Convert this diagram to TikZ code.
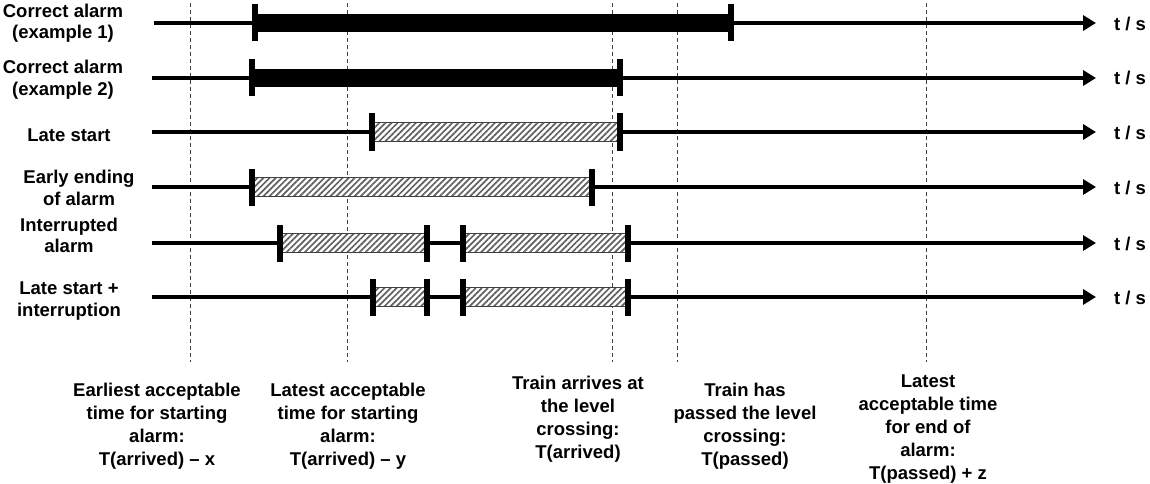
\documentclass[tikz,border=0pt]{standalone}
\usepackage{fontspec}
\setmainfont{Liberation Sans}
\usetikzlibrary{arrows.meta,patterns.meta}
\begin{document}
\begin{tikzpicture}[x=1pt,y=-1pt,
  guide/.style={draw=black!75, line width=0.9pt, dash pattern=on 4pt off 3pt},
  axis/.style={line width=4.5pt, -{Triangle[length=13pt,width=15pt]}},
  rowlabel/.style={font=\bfseries\fontsize{18.5}{21.5}\selectfont, align=center, inner sep=0pt},
  botlabel/.style={font=\bfseries\fontsize{18.5}{23}\selectfont, align=center, inner sep=0pt},
  unitlabel/.style={font=\bfseries\fontsize{18.5}{21}\selectfont, inner sep=0pt},
  solidbar/.style={fill=black},
  hatchbar/.style={draw=black!75, line width=0.9pt, preaction={fill=white},
    pattern={Lines[angle=45,distance=4.3pt,line width=1.7pt]}, pattern color=black!62},
  tickmark/.style={fill=black}
]
\useasboundingbox (0,0) rectangle (1150,484);

% guides
\foreach \gx in {190,347,612,677,926}{
  \draw[guide] (\gx,3) -- (\gx,362);
}

% axes
\coordinate (a1s) at (154,23);  \coordinate (a1e) at (1096,23);
\coordinate (a2s) at (152,78);  \coordinate (a2e) at (1096,78);
\coordinate (a3s) at (152,132); \coordinate (a3e) at (1096,132);
\coordinate (a4s) at (152,187); \coordinate (a4e) at (1096,187);
\coordinate (a5s) at (152,243); \coordinate (a5e) at (1096,243);
\coordinate (a6s) at (152,297); \coordinate (a6e) at (1096,297);
\foreach \i in {1,...,6}{
  \draw[axis] (a\i s) -- (a\i e);
}

% row 1
\fill[solidbar] (254,14) rectangle (731,32);
% row 2
\fill[solidbar] (252,69) rectangle (620,87);
% row 3
\draw[hatchbar] (372,122.5) rectangle (620,141.5);
% row 4
\draw[hatchbar] (252,177.5) rectangle (592,196.5);
% row 5
\draw[hatchbar] (280,233.5) rectangle (427,252.5);
\draw[hatchbar] (463,233.5) rectangle (628,252.5);
% row 6
\draw[hatchbar] (373,287.5) rectangle (427,306.5);
\draw[hatchbar] (463,287.5) rectangle (628,306.5);

% ticks
\foreach \tx/\ty in {255/23,731/23,252/78,620/78,372/132,620/132,252/187,592/187,
  280/243,427/243,463/243,628/243,373/297,427/297,463/297,628/297}{
  \fill[tickmark] (\tx-2.75,\ty-18.5) rectangle (\tx+2.75,\ty+18.5);
}

% row labels
\node[rowlabel] (r1) at (63,23) {Correct alarm\\(example 1)};
\node[rowlabel] (r2) at (63,79.5) {Correct alarm\\(example 2)};
\node[rowlabel] (r3) at (69,135) {Late start};
\node[rowlabel] (r4) at (79,188) {Early ending\\of alarm};
\node[rowlabel] (r5) at (69,235.5) {Interrupted\\alarm};
\node[rowlabel] (r6) at (69,301) {Late start +\\interruption};

% unit labels
\foreach \i/\uy in {1/24,2/78,3/133,4/188,5/244,6/298}{
  \node[unitlabel] (ts\i) at (1130,\uy) {t / s};
}

% bottom labels
\node[botlabel] (b1) at (157,426) {Earliest acceptable\\time for starting\\alarm:\\T(arrived) -- x};
\node[botlabel] (b2) at (348,426) {Latest acceptable\\time for starting\\alarm:\\T(arrived) -- y};
\node[botlabel] (b3) at (578,419) {Train arrives at\\the level\\crossing:\\T(arrived)};
\node[botlabel] (b4) at (745,426) {Train has\\passed the level\\crossing:\\T(passed)};
\node[botlabel] (b5) at (928,429) {Latest\\acceptable time\\for end of\\alarm:\\T(passed) + z};
\end{tikzpicture}
\end{document}
